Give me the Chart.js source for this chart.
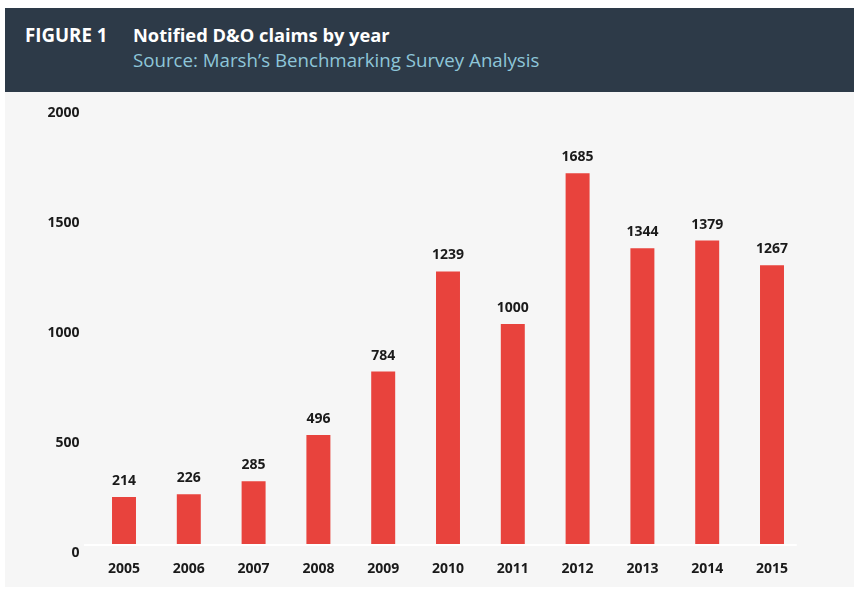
<!DOCTYPE html>
<html>
<head>
<meta charset="utf-8">
<script src="https://cdn.jsdelivr.net/npm/chart.js@4/dist/chart.umd.min.js"></script>
<style>
  html, body { margin: 0; padding: 0; background: #ffffff; width: 854px; height: 592px; overflow: hidden; }
  #header { position: absolute; left: 5px; top: 8px; width: 849px; height: 84px; background: #2d3a48; font-family: "Open Sans", sans-serif; }
  #header div { position: absolute; line-height: 24px; white-space: nowrap; }
  #fig { left: 20px; top: 15px; color: #ffffff; font-weight: bold; font-size: 18.7px; }
  #title { left: 128px; top: 15px; color: #ffffff; font-weight: bold; font-size: 18.3px; }
  #sub { left: 128px; top: 40px; color: #8ec6d9; font-size: 18.7px; }
  #wrap { position: absolute; left: 5px; top: 92px; width: 849px; height: 495px; background: #f6f6f6; }
</style>
</head>
<body>
<div id="header">
  <div id="fig">FIGURE 1</div>
  <div id="title">Notified D&amp;O claims by year</div>
  <div id="sub">Source: Marsh’s Benchmarking Survey Analysis</div>
</div>
<div id="wrap"><canvas id="c" width="849" height="495"></canvas></div>
<script>
const years = ['2005','2006','2007','2008','2009','2010','2011','2012','2013','2014','2015'];
const claims = [214, 226, 285, 496, 784, 1239, 1000, 1685, 1344, 1379, 1267];
const yTicks = [0, 500, 1000, 1500, 2000];

const FONT = '"Open Sans", sans-serif';

const baseLine = {
  id: 'baseLine',
  beforeDatasetsDraw(chart) {
    const ctx = chart.ctx;
    const y0 = chart.scales.y.getPixelForValue(0);
    const a = chart.chartArea;
    ctx.save();
    ctx.strokeStyle = '#ffffff';
    ctx.lineWidth = 2;
    ctx.beginPath();
    ctx.moveTo(a.left - 7.6, y0 + 1);
    ctx.lineTo(a.right - 7.6, y0 + 1);
    ctx.stroke();
    ctx.restore();
  }
};

const valueLabels = {
  id: 'valueLabels',
  afterDatasetsDraw(chart) {
    const ctx = chart.ctx;
    const meta = chart.getDatasetMeta(0);
    ctx.save();
    ctx.font = 'bold 14px ' + FONT;
    ctx.fillStyle = '#1a1a1a';
    ctx.textAlign = 'center';
    ctx.textBaseline = 'middle';
    meta.data.forEach((bar, i) => {
      ctx.fillText(String(claims[i]), bar.x, bar.y - 16);
    });
    ctx.restore();
  }
};

new Chart(document.getElementById('c'), {
  type: 'bar',
  data: {
    labels: years,
    datasets: [{
      data: claims,
      backgroundColor: '#e8433d',
      borderWidth: 0,
      categoryPercentage: 1,
      barPercentage: 0.37
    }]
  },
  options: {
    responsive: false,
    animation: false,
    layout: { padding: { left: 0, right: 49.6, top: 12, bottom: 0 } },
    plugins: { legend: { display: false }, tooltip: { enabled: false } },
    scales: {
      x: {
        grid: { display: false, drawTicks: false },
        border: { display: false },
        ticks: { color: '#1a1a1a', font: { family: FONT, size: 14, weight: 'bold' }, padding: 17 },
        afterFit(scale) { scale.height = 43; }
      },
      y: {
        min: 0, max: 2000,
        afterBuildTicks(scale) { scale.ticks = yTicks.map(v => ({ value: v })); },
        grid: { display: false, drawTicks: false },
        border: { display: false },
        ticks: {
          color: '#1a1a1a', font: { family: FONT, size: 14, weight: 'bold' },
          padding: 12, labelOffset: 9,
          callback: (v) => String(v)
        },
        afterFit(scale) { scale.width = 86.6; scale.paddingTop = 0; scale.paddingBottom = 0; }
      }
    }
  },
  plugins: [baseLine, valueLabels]
});
</script>
</body>
</html>
